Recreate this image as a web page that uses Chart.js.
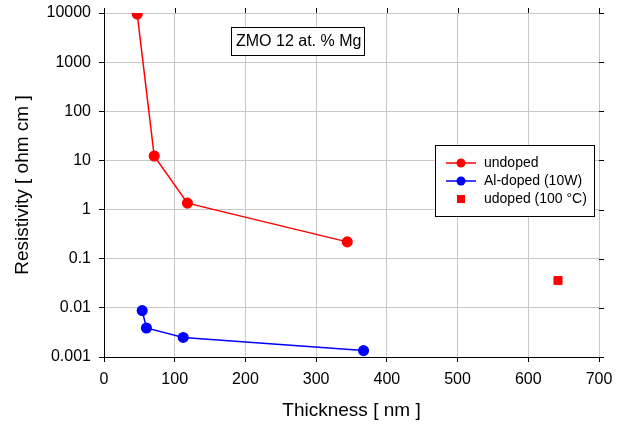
<!DOCTYPE html>
<html lang="en">
<head>
  <meta charset="UTF-8">
  <title>ZMO resistivity vs thickness</title>
  <script src="https://cdn.jsdelivr.net/npm/chart.js"></script>
  <style>
    body { margin: 0; background: #fff; }
    #wrap { width: 626px; height: 426px; }
  </style>
</head>
<body>
  <div id="wrap"><canvas id="resChart" width="626" height="426"></canvas></div>
  <script>
    // data
    const undopedX = [47, 71, 118, 344];
    const undopedY = [9500, 12.3, 1.35, 0.22];
    const alDopedX = [54, 60, 112, 367];
    const alDopedY = [0.0088, 0.0039, 0.0025, 0.00135];
    const heatedX = [642];
    const heatedY = [0.036];

    const seriesNames = ["undoped", "Al-doped (10W)", "udoped (100 \u00B0C)"];
    const yTicks = [0.001, 0.01, 0.1, 1, 10, 100, 1000, 10000];
    const yTickLabels = ["0.001", "0.01", "0.1", "1", "10", "100", "1000", "10000"];
    const xTicks = [0, 100, 200, 300, 400, 500, 600, 700];
    const annotation = "ZMO 12 at. % Mg";

    const pts = (xs, ys) => xs.map((x, i) => ({ x: x, y: ys[i] }));
    const FONT = "'Liberation Sans', Arial, sans-serif";

    // legend box, annotation box and mirrored ticks on top/right
    const extras = {
      id: "extras",
      afterDraw(chart) {
        const ctx = chart.ctx;
        const a = chart.chartArea;
        const xs = chart.scales.x, ys = chart.scales.y;
        ctx.save();
        ctx.strokeStyle = "#000";
        ctx.lineWidth = 1;
        ctx.beginPath();
        xTicks.forEach(v => {
          const px = Math.round(xs.getPixelForValue(v)) + 0.5;
          ctx.moveTo(px, a.top); ctx.lineTo(px, a.top - 5);
        });
        yTicks.forEach(v => {
          const py = Math.round(ys.getPixelForValue(v)) + 0.5;
          ctx.moveTo(a.right, py); ctx.lineTo(a.right + 5, py);
        });
        ctx.stroke();

        // annotation box
        ctx.fillStyle = "#fff";
        ctx.fillRect(231, 27, 133, 28);
        ctx.strokeRect(231.5, 27.5, 133, 28);
        ctx.fillStyle = "#000";
        ctx.font = "16px " + FONT;
        ctx.textBaseline = "middle";
        ctx.fillText(annotation, 236, 42);

        // legend
        const lx = 435, ly = 145, lw = 159, lh = 71;
        ctx.fillStyle = "#fff";
        ctx.fillRect(lx, ly, lw, lh);
        ctx.strokeRect(lx + 0.5, ly + 0.5, lw, lh);
        chart.data.datasets.forEach((ds, i) => {
          const cy = ly + 18 + i * 18;
          ctx.strokeStyle = ds.borderColor;
          ctx.fillStyle = ds.backgroundColor;
          if (ds.showLine) {
            ctx.lineWidth = 1.5;
            ctx.beginPath();
            ctx.moveTo(446, cy); ctx.lineTo(476, cy);
            ctx.stroke();
            ctx.beginPath();
            ctx.arc(461, cy, 4.5, 0, Math.PI * 2);
            ctx.fill();
          } else {
            ctx.fillRect(457, cy - 4, 8, 8);
          }
          ctx.fillStyle = "#000";
          ctx.font = "14px " + FONT;
          ctx.fillText(ds.label, 484, cy);
        });
        ctx.restore();
      }
    };

    new Chart(document.getElementById("resChart").getContext("2d"), {
      type: "scatter",
      data: {
        datasets: [
          {
            label: seriesNames[0],
            data: pts(undopedX, undopedY),
            showLine: true,
            borderColor: "#ff0000",
            backgroundColor: "#ff0000",
            borderWidth: 1.5,
            pointRadius: 4.8,
            pointHoverRadius: 4.8
          },
          {
            label: seriesNames[1],
            data: pts(alDopedX, alDopedY),
            showLine: true,
            borderColor: "#0000ff",
            backgroundColor: "#0000ff",
            borderWidth: 1.5,
            pointRadius: 4.8,
            pointHoverRadius: 4.8
          },
          {
            label: seriesNames[2],
            data: pts(heatedX, heatedY),
            showLine: false,
            borderColor: "#ff0000",
            backgroundColor: "#ff0000",
            pointStyle: "rect",
            pointRadius: 5.7,
            pointHoverRadius: 5.7
          }
        ]
      },
      options: {
        responsive: false,
        animation: false,
        layout: { padding: { top: 13, right: 27, left: 0, bottom: 0 } },
        plugins: { legend: { display: false }, tooltip: { enabled: false } },
        scales: {
          x: {
            type: "linear",
            min: 0, max: 700,
            afterBuildTicks: s => { s.ticks = xTicks.map(v => ({ value: v })); },
            afterFit: s => { s.height = 69; s.paddingLeft = 0; s.paddingRight = 0; },
            border: { color: "#000", width: 1 },
            grid: { color: "#c8c8c8", tickColor: "#000", tickLength: 5 },
            ticks: { color: "#000", font: { family: FONT, size: 16 }, padding: 8 },
            title: { display: true, text: "Thickness [ nm ]", color: "#000",
                     font: { family: FONT, size: 19 }, padding: { top: 4, bottom: 4 } }
          },
          y: {
            type: "logarithmic",
            min: 0.001, max: 10000,
            afterBuildTicks: s => { s.ticks = yTicks.map(v => ({ value: v })); },
            afterFit: s => { s.width = 104; s.paddingTop = 0; s.paddingBottom = 0; },
            border: { color: "#000", width: 1 },
            grid: { color: "#c8c8c8", tickColor: "#000", tickLength: 5 },
            ticks: {
              color: "#000", font: { family: FONT, size: 16 }, padding: 8,
              callback: (v) => yTickLabels[yTicks.indexOf(v)] ?? ""
            },
            title: { display: true, text: "Resistivity [ ohm cm ]", color: "#000",
                     font: { family: FONT, size: 19 }, padding: { top: 11, bottom: 4 } }
          }
        }
      },
      plugins: [extras]
    });
  </script>
</body>
</html>
